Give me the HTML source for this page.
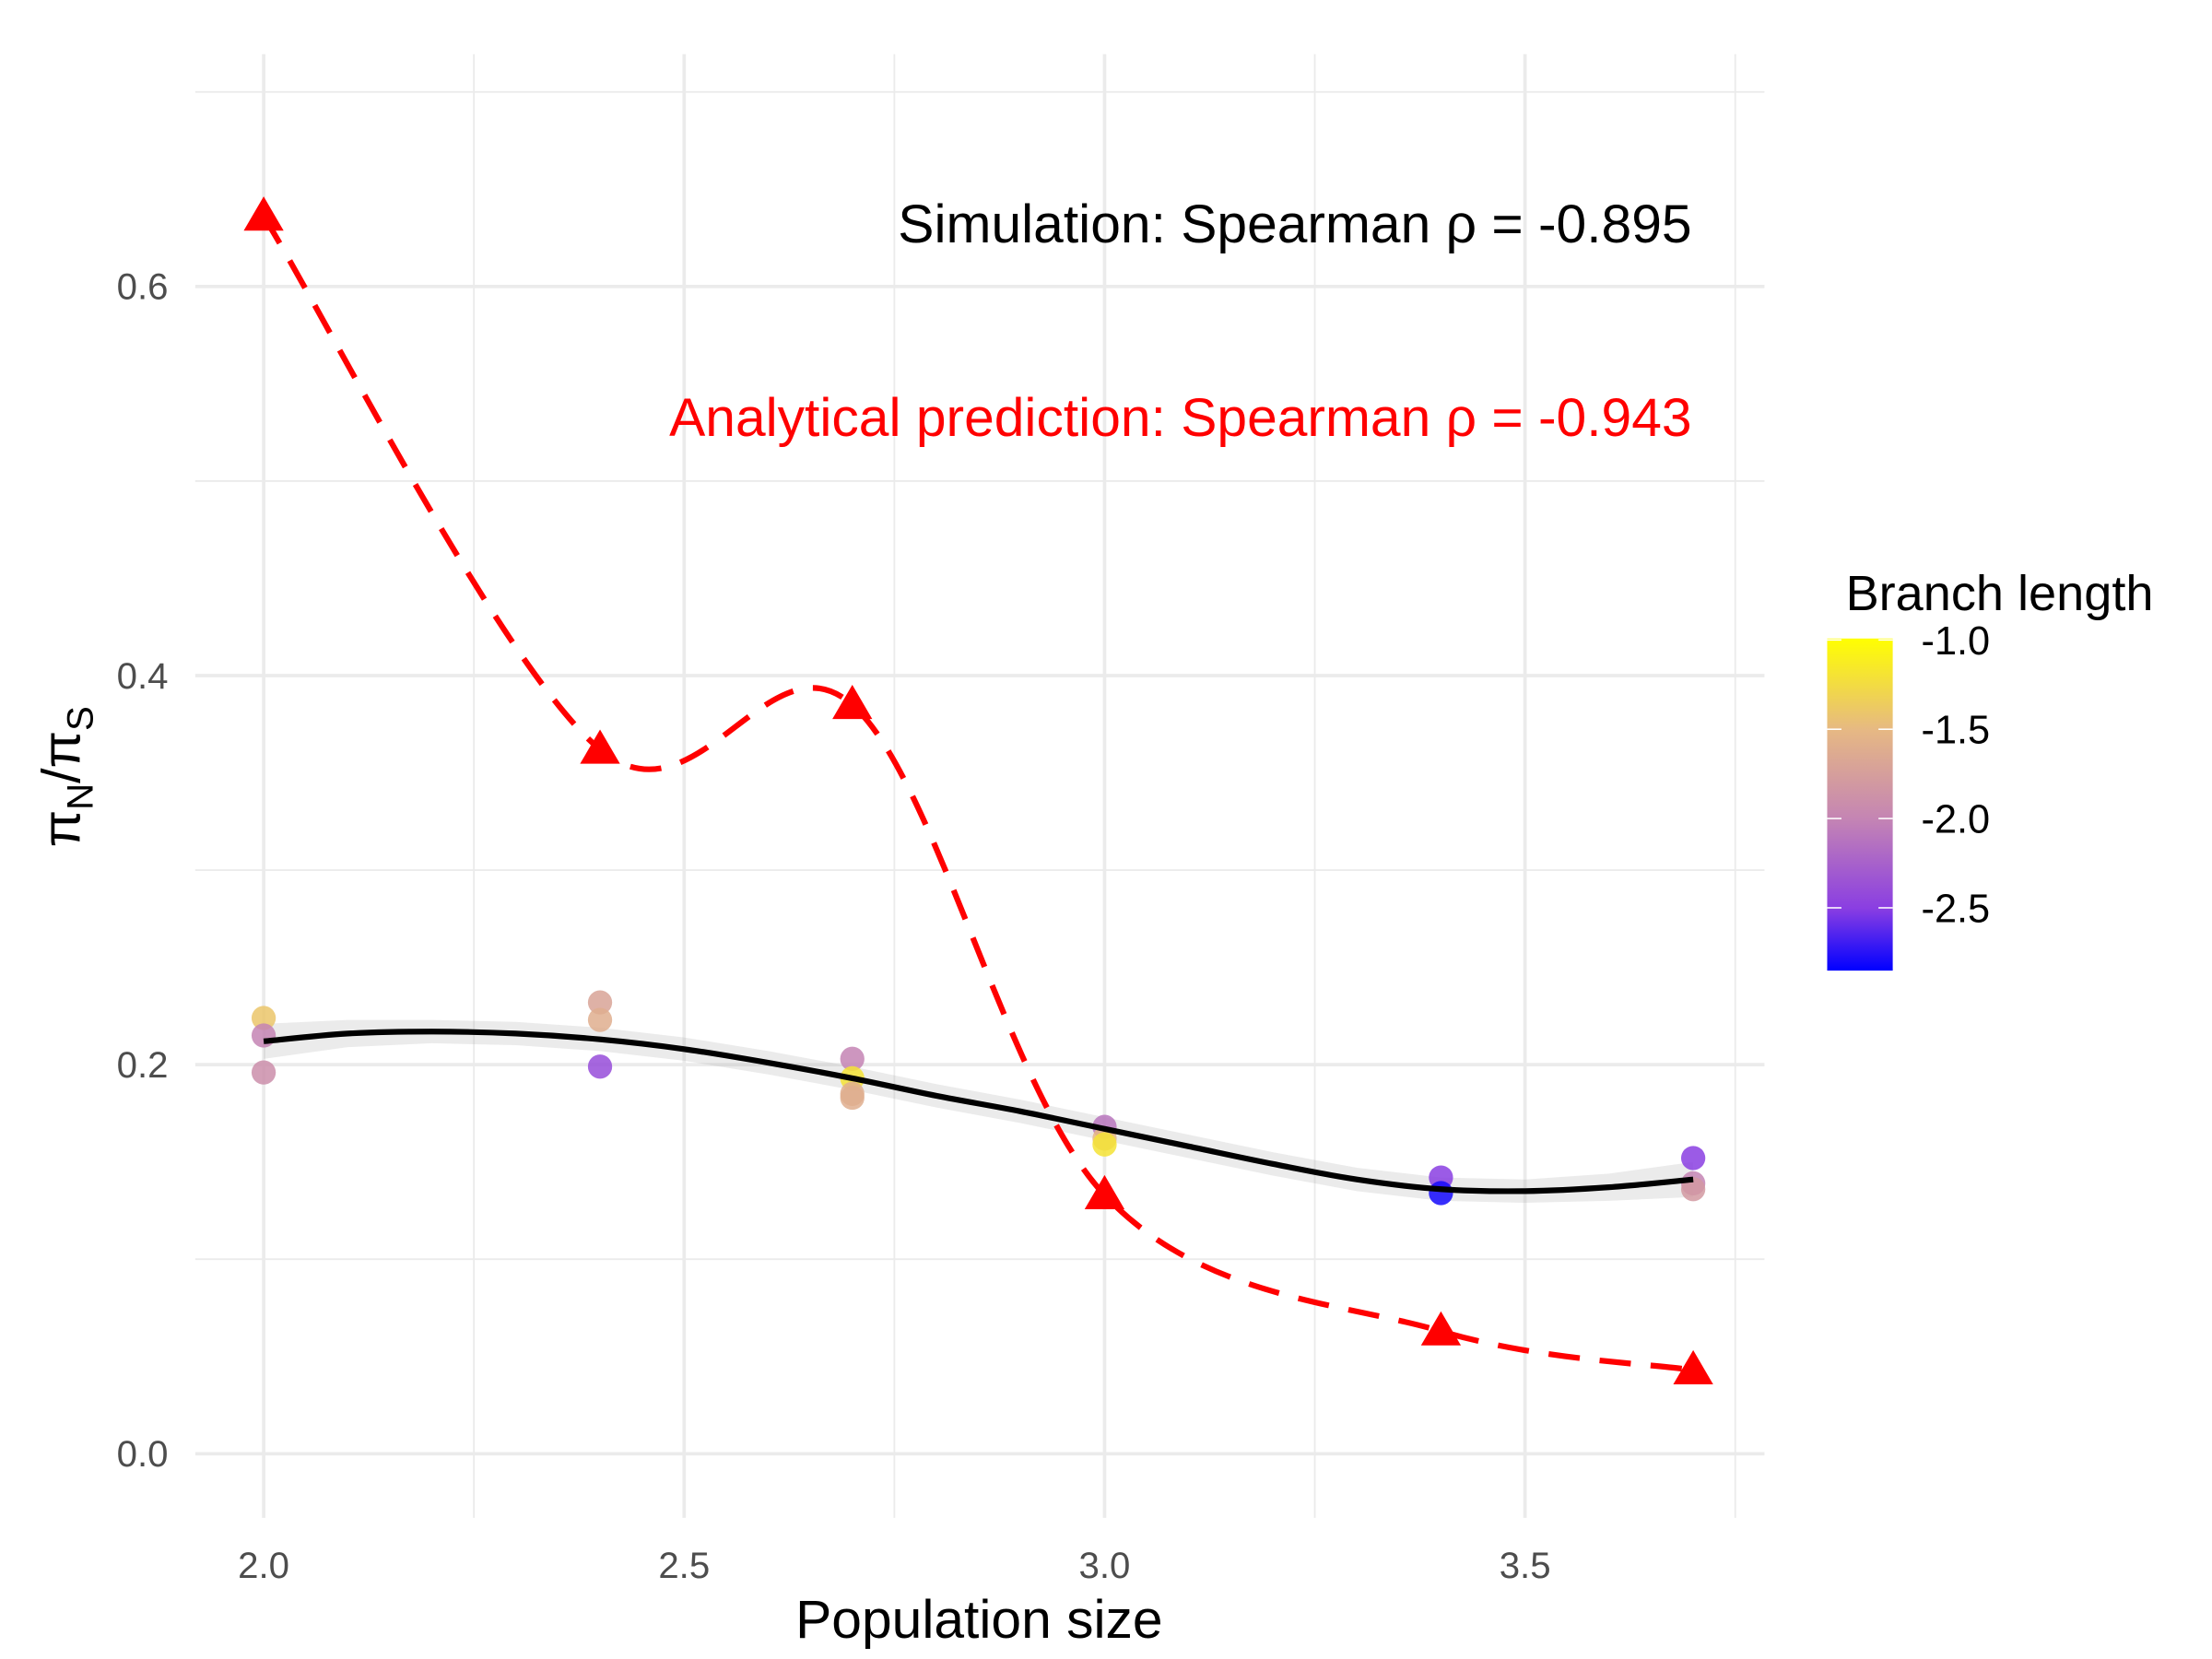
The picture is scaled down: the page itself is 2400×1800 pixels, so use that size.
<!DOCTYPE html>
<html><head><meta charset="utf-8"><style>
html,body{margin:0;padding:0;background:#fff;}
svg{display:block;font-family:"Liberation Sans",Arial,sans-serif;}
</style></head><body>
<svg id="chart" width="2400" height="1800" viewBox="0 0 1552 1164" xmlns="http://www.w3.org/2000/svg">
<defs>
<linearGradient id="cg" x1="0" y1="1" x2="0" y2="0">
<stop offset="0" stop-color="#0000ff"/>
<stop offset="0.187" stop-color="#8a3ee2"/>
<stop offset="0.455" stop-color="#c484b4"/>
<stop offset="0.723" stop-color="#e6b884"/>
<stop offset="1" stop-color="#ffff00"/>
</linearGradient>
</defs>
<g id="grid"></g>
<g id="ribbon"></g>
<g id="marks"></g>
<g id="axes"></g>
<text x="1187" y="170" text-anchor="end" font-size="38" fill="#000">Simulation: Spearman ρ = -0.895</text>
<text x="1187" y="306" text-anchor="end" font-size="38" fill="#ff0000">Analytical prediction: Spearman ρ = -0.943</text>
<text x="687" y="1149" text-anchor="middle" font-size="38" fill="#000">Population size</text>
<text transform="translate(56,545) rotate(-90)" text-anchor="middle" font-size="38" fill="#000">π<tspan font-size="26" dy="9">N</tspan><tspan dy="-9">/π</tspan><tspan font-size="26" dy="9">S</tspan></text>
<g>
<text x="1295" y="428" font-size="35" fill="#000">Branch length</text>
<rect x="1282" y="448" width="46" height="233" fill="url(#cg)"/>
<g id="legticks"></g>
</g>
</svg>
<script>
const xTicks=[2.0,2.5,3.0,3.5];
const xTickLabels=["2.0","2.5","3.0","3.5"];
const xMinor=[2.25,2.75,3.25,3.75];
const yTicks=[0,0.2,0.4,0.6];
const yTickLabels=["0.0","0.2","0.4","0.6"];
const yMinor=[0.1,0.3,0.5,0.7];
const predX=[2.0,2.4,2.7,3.0,3.4,3.7];
const predY=[0.636,0.362,0.385,0.133,0.063,0.043];
const simX=[2.0,2.0,2.0,2.4,2.4,2.4,2.7,2.7,2.7,2.7,3.0,3.0,3.0,3.4,3.4,3.7,3.7,3.7];
const simY=[0.224,0.215,0.196,0.232,0.223,0.199,0.203,0.193,0.185,0.183,0.168,0.162,0.159,0.142,0.134,0.152,0.139,0.136];
const simC=[-1.4,-2.0,-1.9,-1.7,-1.6,-2.4,-2.0,-1.2,-1.6,-1.6,-2.1,-1.5,-1.2,-2.5,-2.8,-2.5,-2.0,-1.8];
const fitX=[2.0,2.1,2.2,2.3,2.4,2.5,2.6,2.7,2.8,2.9,3.0,3.1,3.2,3.3,3.4,3.5,3.6,3.7];
const fitY=[0.212,0.216,0.217,0.216,0.213,0.208,0.201,0.193,0.184,0.176,0.167,0.158,0.149,0.141,0.136,0.135,0.137,0.141];
const fitSE=[0.009,0.007,0.006,0.006,0.006,0.006,0.006,0.006,0.006,0.006,0.006,0.006,0.006,0.006,0.006,0.006,0.007,0.009];
const legVals=[-1.0,-1.5,-2.0,-2.5];
const legLabels=["-1.0","-1.5","-2.0","-2.5"];

const NS="http://www.w3.org/2000/svg";
const X=v=>185+(v-2)*590;
const Y=v=>1020-v*1365;
const L=v=>449+(-1-v)*125.3;
function mk(tag,attrs,parent){const e=document.createElementNS(NS,tag);for(const k in attrs)e.setAttribute(k,attrs[k]);parent.appendChild(e);return e;}
const grid=document.getElementById('grid'),axes=document.getElementById('axes'),marks=document.getElementById('marks'),rib=document.getElementById('ribbon');
const PX0=137,PX1=1238,PY0=38,PY1=1065;
xMinor.forEach(v=>{const e=mk('line',{x1:X(v),x2:X(v),y1:PY0,y2:PY1,stroke:'#ebebeb','stroke-width':1.2},grid);

});
yMinor.forEach(v=>{const e=mk('line',{x1:PX0,x2:PX1,y1:Y(v),y2:Y(v),stroke:'#ebebeb','stroke-width':1.2},grid);

});
xTicks.forEach((v,i)=>{const e=mk('line',{x1:X(v),x2:X(v),y1:PY0,y2:PY1,stroke:'#ebebeb','stroke-width':2.4},grid);


const t=mk('text',{x:X(v),y:1107,'text-anchor':'middle','font-size':26,fill:'#4d4d4d'},axes);t.textContent=xTickLabels[i];

});
yTicks.forEach((v,i)=>{const e=mk('line',{x1:PX0,x2:PX1,y1:Y(v),y2:Y(v),stroke:'#ebebeb','stroke-width':2.4},grid);


const t=mk('text',{x:118,y:Y(v)+9,'text-anchor':'end','font-size':26,fill:'#4d4d4d'},axes);t.textContent=yTickLabels[i];

});
function cr(xs,ys){let d=`M${xs[0]},${ys[0]}`;const n=xs.length;
for(let i=0;i<n-1;i++){const x0=i?xs[i-1]:xs[i],y0=i?ys[i-1]:ys[i],x3=i+2<n?xs[i+2]:xs[i+1],y3=i+2<n?ys[i+2]:ys[i+1];
d+=` C${xs[i]+(xs[i+1]-x0)/6},${ys[i]+(ys[i+1]-y0)/6} ${xs[i+1]-(x3-xs[i])/6},${ys[i+1]-(y3-ys[i])/6} ${xs[i+1]},${ys[i+1]}`;}return d;}
let rd='M'+fitX.map((x,i)=>X(x)+','+Y(fitY[i]+fitSE[i])).join(' L');
rd+=' L'+fitX.slice().reverse().map((x,j)=>{const i=fitX.length-1-j;return X(x)+','+Y(fitY[i]-fitSE[i]);}).join(' L')+'Z';
const r=mk('path',{d:rd,fill:'#999',opacity:0.2},rib);


function col(v){const stops=[[-2.85,[0,0,255]],[-2.5,[138,62,226]],[-2.0,[196,132,180]],[-1.5,[230,184,132]],[-1.0,[255,255,0]]];
for(let i=0;i<stops.length-1;i++){if(v<=stops[i+1][0]){const t=Math.max(0,(v-stops[i][0])/(stops[i+1][0]-stops[i][0]));const a=stops[i][1],b=stops[i+1][1];return `rgb(${a.map((c,k)=>Math.round(c+(b[k]-c)*t)).join(',')})`;}}return 'rgb(255,255,0)';}
simX.forEach((x,i)=>{const c=mk('circle',{cx:X(x),cy:Y(simY[i]),r:8.5,fill:col(simC[i]),opacity:0.85},marks);

});
const fl=mk('path',{d:cr(fitX.map(X),fitY.map(Y)),fill:'none',stroke:'#000','stroke-width':4},marks);


const pl=mk('path',{d:cr(predX.map(X),predY.map(Y)),fill:'none',stroke:'#ff0000','stroke-width':4,'stroke-dasharray':'22 14'},marks);


predX.forEach((x,i)=>{const cx=X(x),cy=Y(predY[i]);const t=mk('polygon',{points:`${cx},${cy-14} ${cx-14},${cy+10} ${cx+14},${cy+10}`,fill:'#ff0000'},marks);

});
const lt=document.getElementById('legticks');
legVals.forEach((v,i)=>{const y=L(v);
mk('line',{x1:1282,x2:1292,y1:y,y2:y,stroke:'#fff','stroke-width':1},lt);
mk('line',{x1:1318,x2:1328,y1:y,y2:y,stroke:'#fff','stroke-width':1},lt);
const t=mk('text',{x:1348,y:y+10,'font-size':28,fill:'#000'},lt);t.textContent=legLabels[i];

});
</script>
</body></html>
